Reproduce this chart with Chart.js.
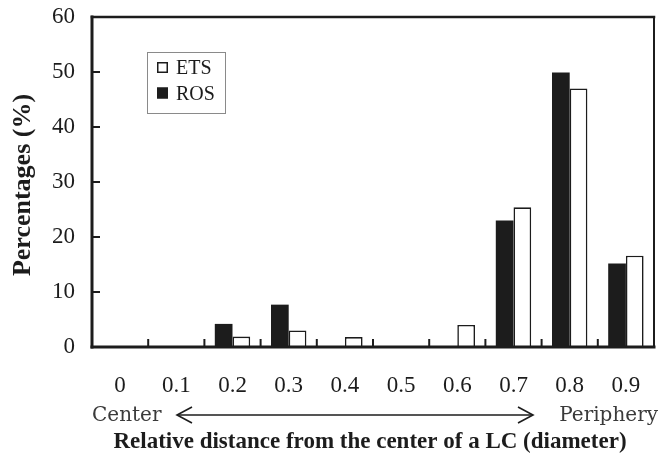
<!DOCTYPE html>
<html>
<head>
<meta charset="utf-8">
<script src="https://cdn.jsdelivr.net/npm/chart.js@4"></script>
<style>
  html, body { margin: 0; padding: 0; background: #fff; }
  #wrap { width: 659px; height: 462px; position: relative; }
</style>
</head>
<body>
<div id="wrap"><canvas id="c" width="659" height="462"></canvas></div>
<script>
const categories = ['0', '0.1', '0.2', '0.3', '0.4', '0.5', '0.6', '0.7', '0.8', '0.9'];
const rosValues = [0, 0, 4.2, 7.7, 0, 0, 0, 23.0, 49.9, 15.2];
const etsValues = [0, 0, 1.9, 3.0, 1.8, 0, 4.0, 25.4, 47.0, 16.6];
const yTickValues = [0, 10, 20, 30, 40, 50, 60];
const legendOrder = ['ETS', 'ROS'];

const INK = '#1c1c1c';
const SERIF = '"Liberation Serif", "Times New Roman", serif';

const decor = {
  id: 'decor',
  afterDraw(chart) {
    const ctx = chart.ctx;
    const a = chart.chartArea;
    const xs = chart.scales.x;
    const ys = chart.scales.y;
    ctx.save();
    ctx.strokeStyle = INK;
    ctx.lineCap = 'square';
    // frame
    ctx.lineWidth = 2.5;
    ctx.beginPath(); ctx.moveTo(a.left, a.top); ctx.lineTo(a.right, a.top); ctx.stroke();
    ctx.lineWidth = 2;
    ctx.beginPath(); ctx.moveTo(a.right, a.top); ctx.lineTo(a.right, a.bottom); ctx.stroke();
    ctx.lineWidth = 3;
    ctx.beginPath(); ctx.moveTo(a.left, a.top); ctx.lineTo(a.left, a.bottom); ctx.stroke();
    ctx.beginPath(); ctx.moveTo(a.left, a.bottom); ctx.lineTo(a.right, a.bottom); ctx.stroke();
    // inward y ticks
    ctx.lineWidth = 2;
    ctx.lineCap = 'butt';
    yTickValues.forEach(v => {
      if (v === 0 || v === 60) return;
      const y = ys.getPixelForValue(v);
      ctx.beginPath(); ctx.moveTo(a.left, y); ctx.lineTo(a.left + 8, y); ctx.stroke();
    });
    // inward x ticks at category boundaries
    for (let i = 1; i < categories.length; i++) {
      const x = (xs.getPixelForValue(i - 1) + xs.getPixelForValue(i)) / 2;
      ctx.beginPath(); ctx.moveTo(x, a.bottom); ctx.lineTo(x, a.bottom - 8); ctx.stroke();
    }
    // legend
    ctx.lineWidth = 1;
    ctx.strokeStyle = '#8a8a8a';
    ctx.strokeRect(147.5, 52.5, 78, 61);
    const ds = chart.data.datasets;
    ctx.font = '20px ' + SERIF;
    ctx.textBaseline = 'alphabetic';
    ctx.textAlign = 'left';
    legendOrder.forEach((name, k) => {
      const d = ds.find(s => s.label === name);
      const top = 62 + k * 25.5;
      ctx.fillStyle = d.backgroundColor;
      ctx.fillRect(157, top, 11, 11);
      ctx.strokeStyle = d.borderColor;
      ctx.lineWidth = 1.5;
      ctx.strokeRect(157.75, top + 0.75, 9.5, 9.5);
      ctx.fillStyle = INK;
      ctx.fillText(name, 176, top + 12);
    });
    // Center / Periphery + arrow
    ctx.fillStyle = '#3a3a3a';
    ctx.font = '20px "DejaVu Serif", serif';
    ctx.textBaseline = 'alphabetic';
    ctx.textAlign = 'left';
    ctx.fillText('Center', 92, 421);
    ctx.textAlign = 'right';
    ctx.fillText('Periphery', 658, 421);
    ctx.strokeStyle = INK;
    ctx.lineWidth = 1.6;
    const ay = 415, ax0 = 177, ax1 = 533;
    ctx.beginPath(); ctx.moveTo(ax0, ay); ctx.lineTo(ax1, ay); ctx.stroke();
    ctx.beginPath(); ctx.moveTo(ax0 + 15, ay - 8); ctx.lineTo(ax0, ay); ctx.lineTo(ax0 + 15, ay + 8); ctx.stroke();
    ctx.beginPath(); ctx.moveTo(ax1 - 15, ay - 8); ctx.lineTo(ax1, ay); ctx.lineTo(ax1 - 15, ay + 8); ctx.stroke();
    // axis titles
    ctx.fillStyle = INK;
    ctx.font = 'bold 23px ' + SERIF;
    ctx.textAlign = 'center';
    ctx.textBaseline = 'middle';
    ctx.fillText('Relative distance from the center of a LC (diameter)', 370, 442);
    ctx.save();
    ctx.translate(23, 185);
    ctx.rotate(-Math.PI / 2);
    ctx.font = 'bold 26px ' + SERIF;
    ctx.fillText('Percentages (%)', 0, 0);
    ctx.restore();
    ctx.restore();
  }
};

new Chart(document.getElementById('c'), {
  type: 'bar',
  data: {
    labels: categories,
    datasets: [
      {
        label: 'ROS',
        data: rosValues,
        backgroundColor: INK,
        borderColor: INK,
        borderWidth: 0,
        categoryPercentage: 0.63,
        barPercentage: 1.0
      },
      {
        label: 'ETS',
        data: etsValues,
        backgroundColor: '#ffffff',
        borderColor: INK,
        borderWidth: { top: 1.6, left: 1.6, right: 1.6, bottom: 0 },
        borderSkipped: false,
        categoryPercentage: 0.63,
        barPercentage: 1.0
      }
    ]
  },
  options: {
    responsive: false,
    animation: false,
    devicePixelRatio: 1,
    layout: { autoPadding: false, padding: { top: 17, right: 5, left: 0, bottom: 0 } },
    plugins: { legend: { display: false }, tooltip: { enabled: false }, title: { display: false } },
    scales: {
      x: {
        type: 'category',
        offset: true,
        grid: { display: false, drawTicks: false },
        border: { display: false },
        ticks: { font: { family: SERIF, size: 23 }, color: INK, padding: 25, maxRotation: 0, autoSkip: false },
        afterFit(s) { s.height = 115; s.paddingLeft = 0; s.paddingRight = 0; s.paddingTop = 0; s.paddingBottom = 0; }
      },
      y: {
        min: 0,
        max: 60,
        grid: { display: false, drawTicks: false },
        border: { display: false },
        afterBuildTicks(s) { s.ticks = yTickValues.map(v => ({ value: v })); },
        ticks: { font: { family: SERIF, size: 23 }, color: INK, padding: 17 },
        afterFit(s) { s.width = 92; s.paddingLeft = 0; s.paddingRight = 0; s.paddingTop = 0; s.paddingBottom = 0; }
      }
    }
  },
  plugins: [decor]
});
</script>
</body>
</html>
